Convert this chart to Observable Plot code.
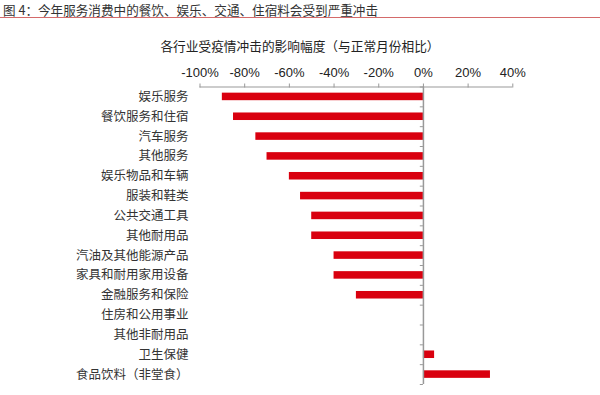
<!DOCTYPE html>
<html>
<head>
<meta charset="utf-8">
<script src="https://cdn.jsdelivr.net/npm/d3@7"></script>
<script src="https://cdn.jsdelivr.net/npm/@observablehq/plot@0.6"></script>
<style>
  html, body { margin: 0; padding: 0; background: #fff; }
  #wrap { position: relative; width: 600px; height: 395px; overflow: hidden; font-family: "Liberation Sans", Arial, "Noto Sans CJK SC", sans-serif; }
  #title { position: absolute; left: 3px; top: 1px; font-size: 12.6px; line-height: 18px; color: #333; font-family: "Noto Sans CJK SC", sans-serif; white-space: nowrap; }
  #rule { position: absolute; left: 0; top: 17px; width: 600px; height: 0; border-top: 1.5px solid #d46a6a; }
  #subtitle { position: absolute; left: 0; width: 600px; top: 37px; text-align: center; font-size: 12.7px; line-height: 18px; color: #222; font-family: "Noto Sans CJK SC", sans-serif; }
  #chart { position: absolute; left: 0; top: 60px; }
</style>
</head>
<body>
<div id="wrap">
  <div id="title">图 4：今年服务消费中的餐饮、娱乐、交通、住宿料会受到严重冲击</div>
  <div id="rule"></div>
  <div id="subtitle">各行业受疫情冲击的影响幅度（与正常月份相比）</div>
  <div id="chart"></div>
</div>
<script>
const categories = [
  "娱乐服务", "餐饮服务和住宿", "汽车服务", "其他服务", "娱乐物品和车辆",
  "服装和鞋类", "公共交通工具", "其他耐用品", "汽油及其他能源产品",
  "家具和耐用家用设备", "金融服务和保险", "住房和公用事业", "其他非耐用品",
  "卫生保健", "食品饮料（非堂食）"
];
const values = [-90, -85, -75, -70, -60, -55, -50, -50, -40, -40, -30, 0, 0, 5, 30];
const xTicks = [-100, -80, -60, -40, -20, 0, 20, 40];

const data = categories.map((c, i) => ({category: c, value: values[i]}));
const lastCat = categories[categories.length - 1];
const halfStep = (384 - 86.5) / categories.length / 2;

const plot = Plot.plot({
  width: 600,
  height: 335,
  marginTop: 26.5,
  marginBottom: 11,
  marginLeft: 199.5,
  marginRight: 87.7,
  style: {fontFamily: "'Liberation Sans', Arial, 'Noto Sans CJK SC', sans-serif", fontSize: "13px", color: "#222", background: "#fff"},
  x: {domain: [-100, 40]},
  y: {domain: categories, paddingInner: 0.62, paddingOuter: 0.31, round: false},
  marks: [
    Plot.barX(data, {x: "value", y: "category", fill: "#d9000f"}),
    Plot.ruleX([0], {stroke: "#999", strokeWidth: 1.5}),
    Plot.ruleY(categories, {y: d => d, x1: -1.4, x2: 0, dy: -halfStep, stroke: "#999"}),
    Plot.ruleY([lastCat], {y: d => d, x1: -1.4, x2: 0, dy: halfStep, stroke: "#999"}),
    Plot.ruleY([categories[0]], {y: d => d, x1: -100, x2: 40, dy: -halfStep, stroke: "#999"}),
    Plot.axisX({anchor: "top", ticks: xTicks, tickSize: 4, tickPadding: 6.5, stroke: "#999", tickFormat: d => d + "%", label: null, fill: "#222", fontSize: 13}),
    Plot.axisY({anchor: "left", tickSize: 0, tickPadding: 11.5, label: null, fill: "#333", fontSize: 12.5, fontFamily: "'Noto Sans CJK SC', sans-serif"})
  ]
});
document.getElementById("chart").appendChild(plot);
</script>
</body>
</html>
